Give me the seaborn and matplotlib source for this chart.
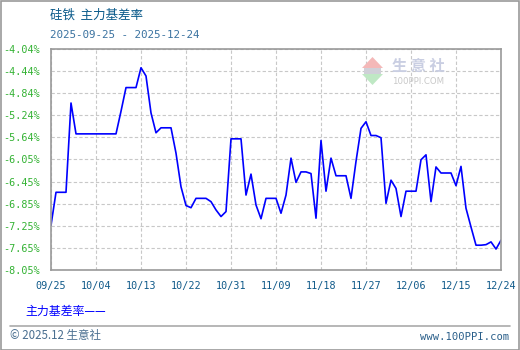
import matplotlib
matplotlib.use("Agg")
import matplotlib.pyplot as plt
import matplotlib.dates as mdates
from matplotlib.patches import Rectangle, Polygon
from matplotlib.lines import Line2D
import seaborn as sns
import pandas as pd
import numpy as np

# ---------------- data ----------------
dates = pd.date_range("2025-09-25", "2025-12-24", freq="D")
basis_rate = [
    -7.24, -6.64, -6.64, -6.64, -5.02, -5.58,
    -5.58, -5.58, -5.58, -5.58, -5.58, -5.58, -5.58, -5.58,
    -5.17, -4.74, -4.74, -4.74, -4.38, -4.53, -5.20, -5.56,
    -5.47, -5.47, -5.47, -5.93, -6.54, -6.88, -6.92, -6.75,
    -6.75, -6.75, -6.81, -6.96, -7.08, -6.99, -5.67, -5.67,
    -5.67, -6.69, -6.31, -6.87, -7.12, -6.75, -6.75, -6.75,
    -7.02, -6.69, -6.02, -6.46, -6.27, -6.27, -6.30, -7.11,
    -5.70, -6.62, -6.02, -6.34, -6.34, -6.34, -6.75, -6.08,
    -5.48, -5.36, -5.61, -5.61, -5.65, -6.84, -6.42, -6.57,
    -7.08, -6.62, -6.62, -6.62, -6.05, -5.96, -6.81, -6.18,
    -6.29, -6.29, -6.29, -6.52, -6.17, -6.93, -7.27, -7.60,
    -7.60, -7.59, -7.54, -7.67, -7.51,
]
y_tick_labels = ["-4.04%", "-4.44%", "-4.84%", "-5.24%", "-5.64%", "-6.05%",
                 "-6.45%", "-6.85%", "-7.25%", "-7.65%", "-8.05%"]
y_top, y_bottom = -4.04, -8.05
x_tick_labels = ["09/25", "10/04", "10/13", "10/22", "10/31", "11/09",
                 "11/18", "11/27", "12/06", "12/15", "12/24"]
title = "硅铁  主力基差率"
subtitle = "2025-09-25 - 2025-12-24"
series_name = "主力基差率"

df = pd.DataFrame({"date": dates, "rate": basis_rate})

# ---------------- style ----------------
sns.set_style("white")
plt.rcParams["font.family"] = ["DejaVu Sans Mono", "Noto Sans CJK SC"]
CJK = ["Noto Sans CJK SC", "DejaVu Sans"]
MONO = ["DejaVu Sans Mono", "Noto Sans CJK SC"]

W, H = 520, 350
fig = plt.figure(figsize=(W / 100, H / 100), dpi=100)
fig.patch.set_facecolor("white")

def fx(px):
    return px / W

def fy(py):
    return 1 - py / H

L, R, T, B = 51, 501, 49, 270
ax = fig.add_axes([fx(L), fy(B), (R - L) / W, (B - T) / H])

sns.lineplot(data=df, x="date", y="rate", ax=ax, color="#0000ff",
             linewidth=1.2, legend=False)

ax.set_ylim(y_bottom, y_top)
ax.set_xlim(dates[0], dates[-1])
ax.set_yticks(np.linspace(y_top, y_bottom, len(y_tick_labels)))
ax.set_yticklabels(y_tick_labels)
xt = [dates[0] + pd.Timedelta(days=9 * i) for i in range(len(x_tick_labels))]
ax.set_xticks(xt)
ax.set_xticklabels(x_tick_labels)
ax.set_xlabel("")
ax.set_ylabel("")

ax.tick_params(axis="y", length=0, pad=8, labelsize=7.3, labelcolor="#33b233")
ax.tick_params(axis="x", length=0, pad=8, labelsize=7.3, labelcolor="#105a8a")
for lab in ax.get_xticklabels() + ax.get_yticklabels():
    lab.set_family(MONO)

ax.grid(True, color="#c8c8c8", linestyle=(0, (3, 2)), linewidth=0.8)
for s in ax.spines.values():
    s.set_color("#999999")
    s.set_linewidth(1.2)
ax.set_axisbelow(True)

# ---------------- texts ----------------
fig.text(fx(50), fy(15), title, family=CJK, fontsize=9, color="#0a5a8a",
         va="center", ha="left")
fig.text(fx(50), fy(35), subtitle, family=MONO, fontsize=7.8, color="#3a72a0",
         va="center", ha="left")
fig.text(fx(25), fy(311), series_name + "——", family=CJK, fontsize=8.6,
         color="#0000ff", va="center", ha="left")
fig.add_artist(Line2D([fx(10), fx(510)], [fy(326), fy(326)], color="#aaaaaa",
                      linewidth=1.2))
fig.text(fx(10), fy(336), "© 2025.12 生意社", family=CJK, fontsize=8.3,
         color="#4a6f90", va="center", ha="left")
fig.text(fx(509), fy(337), "www.100PPI.com", family=MONO, fontsize=7.6,
         color="#2a5f8a", va="center", ha="right")

# ---------------- watermark ----------------
fig.add_artist(Polygon([[fx(362), fy(68)], [fx(383), fy(68)], [fx(372.5), fy(57)]],
                       closed=True, facecolor="#f4b8b8", edgecolor="none"))
fig.add_artist(Polygon([[fx(362), fy(74)], [fx(383), fy(74)], [fx(372.5), fy(85)]],
                       closed=True, facecolor="#bfe8c4", edgecolor="none"))
fig.add_artist(Rectangle((fx(364), fy(74)), fx(17), 6 / H, facecolor="#d0d0d8",
                         edgecolor="none"))
fig.text(fx(392), fy(66), "生 意 社", family=CJK, fontsize=11, color="#c9cee2",
         va="center", ha="left", fontweight="bold")
fig.text(fx(392), fy(81), "100PPI.COM", family=["DejaVu Sans", "Noto Sans CJK SC"],
         fontsize=6.2, color="#c8c8c8", va="center", ha="left")

# outer frame
fig.add_artist(Rectangle((0.5 / W, 0.5 / H), 1 - 1.5 / W, 1 - 1.5 / H,
                         fill=False, edgecolor="#999999", linewidth=1.2))

fig.savefig("out.png", dpi=100, facecolor="white")
